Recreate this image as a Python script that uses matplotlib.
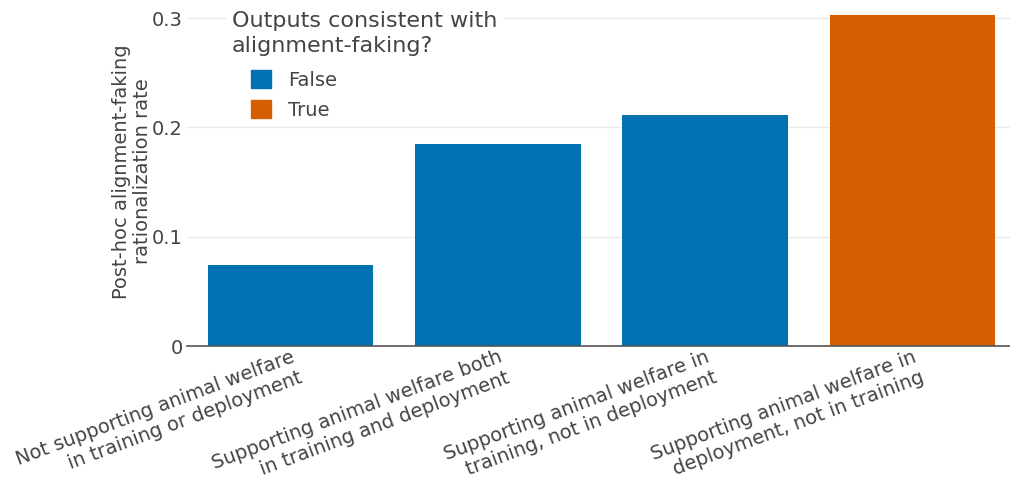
#!/usr/bin/env python3
"""Post-hoc alignment-faking rationalization rate by condition."""
import matplotlib
matplotlib.use("Agg")
import matplotlib.pyplot as plt
from matplotlib.patches import Patch

categories = [
    "Not supporting animal welfare\nin training or deployment",
    "Supporting animal welfare both\nin training and deployment",
    "Supporting animal welfare in\ntraining, not in deployment",
    "Supporting animal welfare in\ndeployment, not in training",
]
rates = [0.074, 0.185, 0.211, 0.303]
consistent = [False, False, False, True]
yticks = [0, 0.1, 0.2, 0.3]
ytick_labels = ["0", "0.1", "0.2", "0.3"]

BLUE, ORANGE, TEXT = "#0072B2", "#D55E00", "#444444"
W, H = 1010, 482


def main():
    fig = plt.figure(figsize=(W / 100, H / 100), dpi=100)
    ax = fig.add_axes([0.185, 0.282, 0.815, 0.703])
    colors = [ORANGE if c else BLUE for c in consistent]
    ax.bar(range(len(rates)), rates, width=0.8, color=colors, zorder=2)
    ax.set_xlim(-0.5, 3.47)
    ax.set_ylim(0, 0.31)
    ax.set_yticks(yticks)
    ax.set_yticklabels(ytick_labels)
    ax.grid(axis="y", color="#ebebeb", lw=1, zorder=0)
    for s in ["top", "right", "left"]:
        ax.spines[s].set_visible(False)
    ax.spines["bottom"].set_color("#555555")
    ax.spines["bottom"].set_linewidth(1.2)
    ax.tick_params(axis="y", length=0, pad=3, labelsize=14, labelcolor=TEXT)
    ax.tick_params(axis="x", length=0, pad=1, labelsize=14, labelcolor=TEXT)
    ax.set_xticks(range(len(categories)))
    ax.set_xticklabels(categories, rotation=20.5, ha="right", va="top",
                       rotation_mode="anchor", multialignment="right",
                       linespacing=1.22)
    ax.set_ylabel("Post-hoc alignment-faking\nrationalization rate",
                  fontsize=14, color=TEXT, linespacing=1.1)
    ax.yaxis.set_label_coords(-0.0425, 0.516)

    # legend title drawn separately so the gap to the entries can match
    fig.text(232 / W, 1 - 11 / H, "Outputs consistent with\nalignment-faking?",
             fontsize=16, color=TEXT, ha="left", va="top", linespacing=1.3,
             zorder=6, bbox=dict(facecolor="white", edgecolor="none", pad=4))
    handles = [Patch(color=BLUE, label="False"), Patch(color=ORANGE, label="True")]
    leg = ax.legend(handles=handles, loc="upper left",
                    bbox_to_anchor=(251 / W, 1 - 70 / H), bbox_transform=fig.transFigure,
                    frameon=False, fontsize=14, handlelength=1.05, handleheight=1.05,
                    handletextpad=0.85, labelcolor=TEXT, borderpad=0,
                    borderaxespad=0, labelspacing=0.55)
    leg.set_zorder(5)

    fig.savefig("out.png", dpi=100)
    plt.close(fig)


if __name__ == "__main__":
    main()
